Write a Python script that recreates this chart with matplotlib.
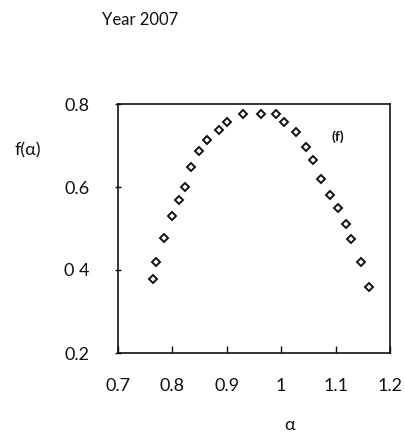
import matplotlib
matplotlib.use("Agg")
import matplotlib.pyplot as plt

alpha = [0.765, 0.770, 0.785, 0.799, 0.813, 0.824, 0.835, 0.849, 0.863, 0.886,
         0.900, 0.930, 0.963, 0.990, 1.005, 1.027, 1.045, 1.059, 1.074, 1.090,
         1.104, 1.119, 1.129, 1.146, 1.161]
f_alpha = [0.379, 0.419, 0.476, 0.530, 0.568, 0.600, 0.647, 0.686, 0.714, 0.738,
           0.757, 0.776, 0.776, 0.776, 0.757, 0.733, 0.696, 0.666, 0.619, 0.581,
           0.549, 0.511, 0.475, 0.419, 0.359]
x_ticks = [0.7, 0.8, 0.9, 1.0, 1.1, 1.2]
x_tick_labels = ["0.7", "0.8", "0.9", "1", "1.1", "1.2"]
y_ticks = [0.2, 0.4, 0.6, 0.8]
y_tick_labels = ["0.2", "0 4", "0.6", "0.8"]

plt.rcParams['font.family'] = ['Lato', 'DejaVu Sans']

W, H = 406, 436
fig = plt.figure(figsize=(W / 100, H / 100), dpi=100)
ax = fig.add_axes([118 / W, 1 - 353 / H, (390 - 118) / W, (353 - 104) / H])

ax.plot(alpha, f_alpha, linestyle='none', marker='D', markersize=4.0,
        markerfacecolor='white', markeredgecolor='#111111', markeredgewidth=1.4)

ax.set_xlim(0.7, 1.2)
ax.set_ylim(0.2, 0.8)
ax.set_xticks(x_ticks)
ax.set_xticklabels(x_tick_labels)
ax.set_yticks(y_ticks)
ax.set_yticklabels(y_tick_labels)
ax.tick_params(axis='x', direction='in', length=5, width=1.0, pad=18,
               labelsize=13, colors='#111111')
ax.tick_params(axis='y', direction='inout', length=5, width=1.0, pad=18,
               labelsize=13, colors='#111111')
for s in ax.spines.values():
    s.set_linewidth(1.2)
    s.set_color('#111111')

fig.text(140 / W, 1 - 20 / H, "Year 2007", ha='center', va='center',
         fontsize=12, color='#111111')
fig.text(28 / W, 1 - 150 / H, "f(α)", ha='center', va='center',
         fontsize=13, color='#111111')
fig.text(290 / W, 1 - 425 / H, "α", ha='center', va='center',
         fontsize=13, color='#111111')
fig.text(338 / W, 1 - 137 / H, "(f)", ha='center', va='center',
         fontsize=10, fontweight='bold', color='#111111')

fig.savefig("out.png", dpi=100)
